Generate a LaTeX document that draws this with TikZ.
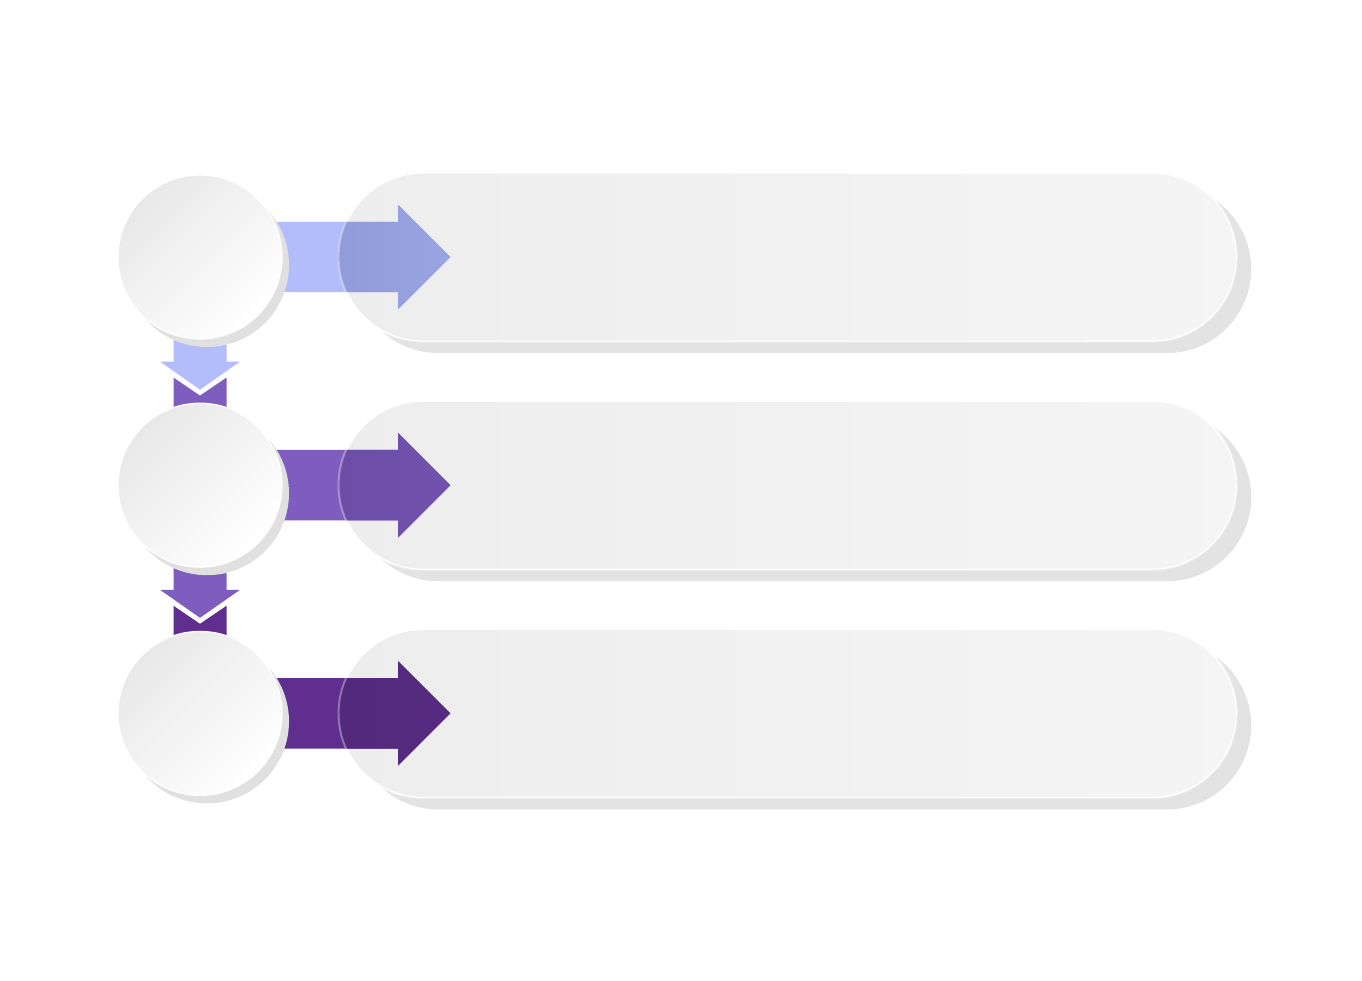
\documentclass[tikz,border=0pt]{standalone}
\usepackage{tikz}
\usetikzlibrary{positioning,shapes.arrows,shadows,backgrounds,calc}
\definecolor{StepA}{HTML}{B3BDFC}
\definecolor{StepB}{HTML}{7E5DBE}
\definecolor{StepC}{HTML}{5F2E8F}
\definecolor{StepAdark}{HTML}{8A94D2}
\definecolor{StepBdark}{HTML}{684AA2}
\definecolor{StepCdark}{HTML}{4F2877}
\tikzset{%
  CircleStyle/.style={circle,minimum size=164pt,inner sep=0pt,draw=white,line width=1.2pt,
    top color=black!9,bottom color=white,shading angle=45,
    general shadow={shadow xshift=7pt,shadow yshift=-8pt,fill=black!12}},
  PillStyle/.style={rectangle,rounded corners=84pt,minimum width=897pt,minimum height=168pt,
    inner sep=0pt,draw=white,line width=1.2pt,left color=black!7,right color=black!4,
    general shadow={shadow xshift=15pt,shadow yshift=-12pt,fill=black!11}},
  ArrowStyle/.style={single arrow,minimum height=200pt,text height=35pt,text depth=35pt,
    single arrow head extend=17pt,inner sep=0pt,anchor=tip}
}

\begin{document}
\begin{tikzpicture}[x=1pt,y=1pt]
  \useasboundingbox (0,0) rectangle (1362,980);
  \node[CircleStyle] (c1) at (200,723) {};
  \node[CircleStyle,below=63pt of c1] (c2) {};
  \node[CircleStyle,below=63pt of c2] (c3) {};
  \begin{scope}[on background layer]
    \foreach \i/\col/\dcol in {1/StepA/StepAdark,2/StepB/StepBdark,3/StepC/StepCdark}{
      \node[PillStyle,right=56pt of c\i] (p\i) {};
      \node[ArrowStyle,fill=\col] (a\i) at ([xshift=168pt]c\i.east) {};
      \begin{scope}
        \clip[rounded corners=84pt] (p\i.south west) rectangle (p\i.north east);
        \node[ArrowStyle,left color=\dcol,right color=\dcol!60!\col]
          at ([xshift=168pt]c\i.east) {};
      \end{scope}
      \draw[white,opacity=.35,line width=2pt,rounded corners=84pt]
        (p\i.south west) rectangle (p\i.north east);
    }
    \foreach \i/\j/\col/\ncol in {1/2/StepA/StepB,2/3/StepB/StepC}{
      \fill[\col] ($(c\i.south)+(-26.5,40)$) -- ($(c\i.south)+(-26.5,-22)$)
        -- ($(c\i.south)+(-40,-22)$) -- ($(c\i.south)+(0,-50)$)
        -- ($(c\i.south)+(40,-22)$) -- ($(c\i.south)+(26.5,-22)$)
        -- ($(c\i.south)+(26.5,40)$) -- cycle;
      \fill[\ncol] ($(c\j.north)+(-26.5,25)$) -- ($(c\j.north)+(0,7)$)
        -- ($(c\j.north)+(26.5,25)$) -- ($(c\j.north)+(26.5,-12)$)
        -- ($(c\j.north)+(-26.5,-12)$) -- cycle;
    }
  \end{scope}
\end{tikzpicture}
\end{document}
